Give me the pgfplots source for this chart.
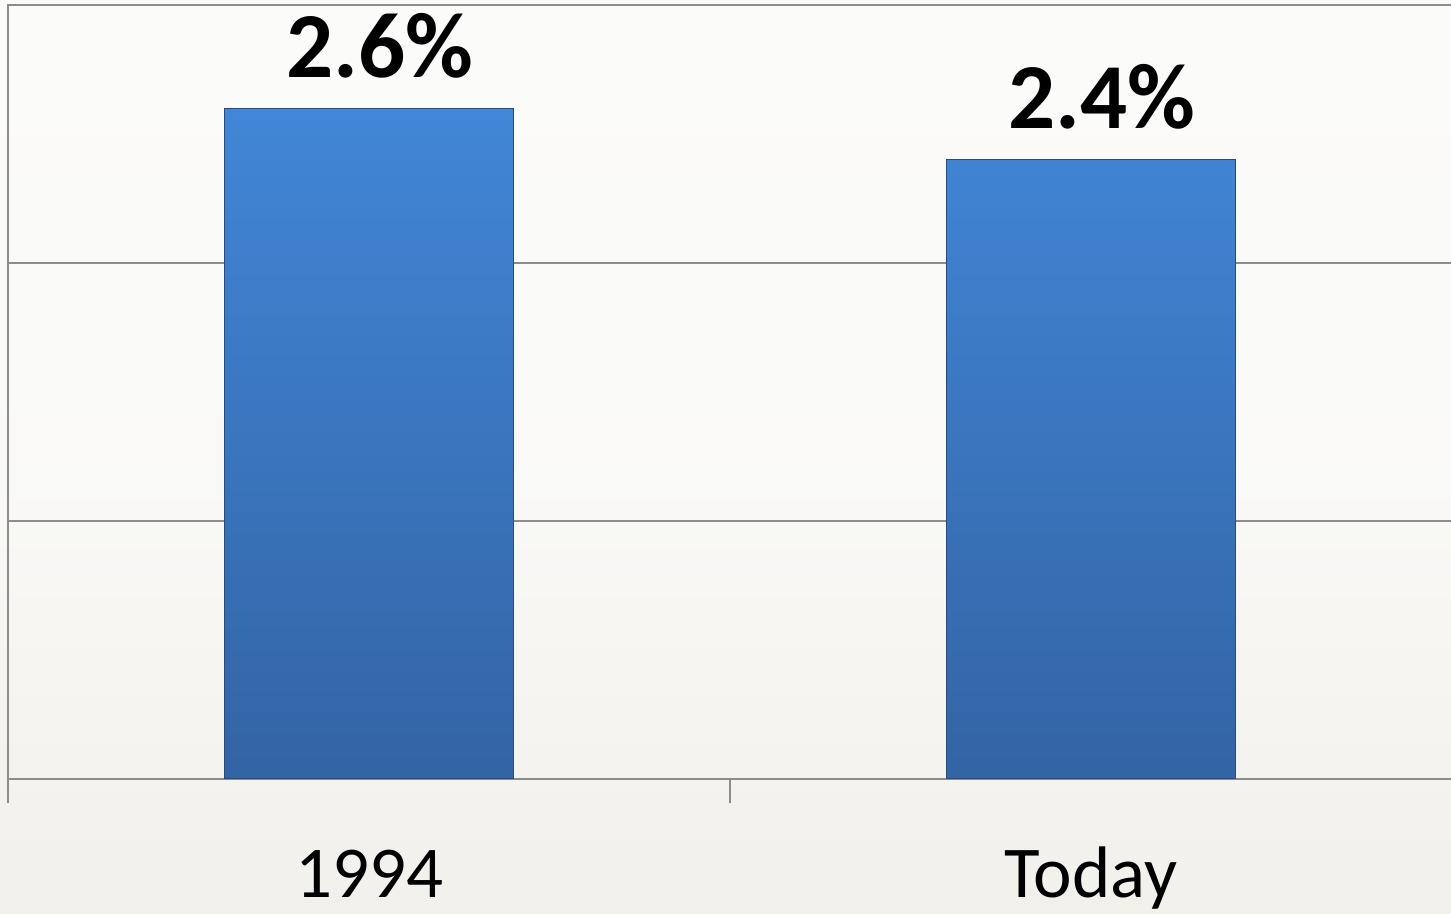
\documentclass[border=0pt]{standalone}
\usepackage{pgfplots}
\pgfplotsset{compat=1.18}
\usepackage{fontspec}
\setmainfont{Carlito}
\definecolor{bartop}{RGB}{66,134,215}
\definecolor{barbot}{RGB}{51,100,164}
\definecolor{baredge}{RGB}{38,76,130}
\definecolor{axgray}{RGB}{140,140,140}
\definecolor{bgtop}{RGB}{251,251,250}
\definecolor{bgbot}{RGB}{242,240,235}
\begin{document}
\begin{tikzpicture}
\useasboundingbox (0,0) rectangle (725.5pt,457pt);
\shade[top color=bgtop, bottom color=bgbot, middle color=bgtop!85!bgbot] (0,0) rectangle (725.5pt,457pt);
\clip (0,0) rectangle (725.5pt,457pt);
\begin{axis}[
  at={(4pt,67.5pt)}, anchor=south west,
  scale only axis, width=722pt, height=387pt,
  xmin=-0.5, xmax=1.5, ymin=0, ymax=3,
  xtick={0,1}, xticklabels={1994,Today},
  xtick pos=bottom,
  xtick style={draw=none},
  extra x ticks={-0.5,0.5,1.5},
  extra x tick labels={},
  extra x tick style={tick align=outside, major tick length=12pt, xtick style={draw=axgray, line width=0.7pt}, grid=none},
  ytick={1,2}, yticklabels={}, ymajorgrids,
  ytick style={draw=none},
  major grid style={draw=axgray, line width=0.7pt},
  axis line style={draw=axgray, line width=0.9pt},
  xticklabel style={font=\fontsize{36.5}{40}\selectfont, anchor=base, yshift=-59.5pt},
  point meta=explicit symbolic,
  nodes near coords,
  every node near coord/.append style={font=\bfseries\fontsize{46.5}{50}\selectfont, anchor=base, yshift=15.5pt, xshift=5.5pt, text=black},
]
\addplot[ybar, bar width=0.4, draw=baredge, line width=0.6pt, top color=bartop, bottom color=barbot]
  coordinates {(0,2.6) [2.6\%] (1,2.4) [2.4\%]};
\end{axis}
\end{tikzpicture}
\end{document}
